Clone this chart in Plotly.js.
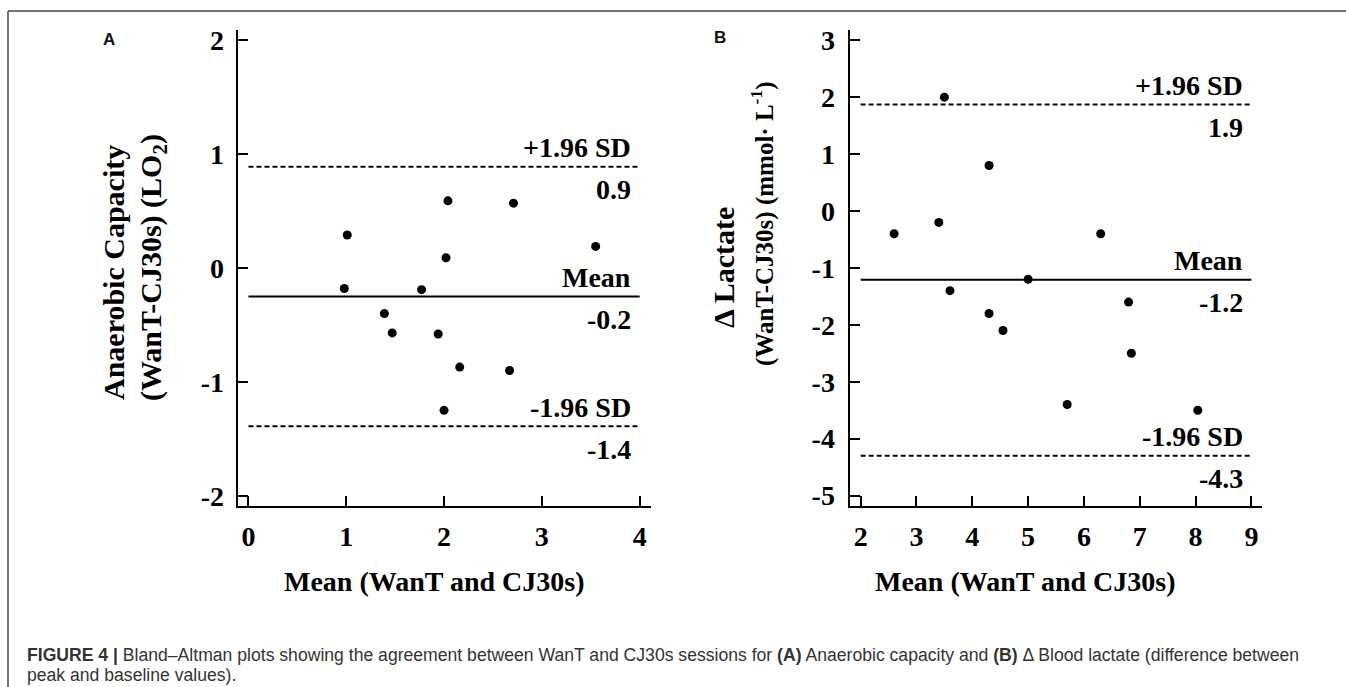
<!DOCTYPE html>
<html>
<head>
<meta charset="utf-8">
<script src="https://cdn.plot.ly/plotly-3.0.1.min.js"></script>
<style>html,body{margin:0;padding:0;background:#fff;}#chart{width:1346px;height:687px;}</style>
</head>
<body>
<div id="chart"></div>
<script>
// ---- Data ----
const aX = [1.01, 0.98, 2.04, 2.71, 3.55, 2.02, 1.77, 1.39, 1.47, 1.94, 2.16, 2.67, 2.00];
const aY = [0.29, -0.18, 0.59, 0.57, 0.19, 0.09, -0.19, -0.40, -0.57, -0.58, -0.87, -0.90, -1.25];
const bX = [2.60, 3.40, 3.50, 3.60, 4.30, 4.30, 4.55, 5.00, 5.70, 6.30, 6.80, 6.85, 8.04];
const bY = [-0.4, -0.2, 2.0, -1.4, 0.8, -1.8, -2.1, -1.2, -3.4, -0.4, -1.6, -2.5, -3.5];

const aLimits = [0.89, -0.25, -1.39];      // +1.96 SD, mean, -1.96 SD
const bLimits = [1.87, -1.21, -4.30];
const limitNames = ["+1.96 SD", "Mean", "-1.96 SD"];
const aLimitText = ["0.9", "-0.2", "-1.4"];
const bLimitText = ["1.9", "-1.2", "-4.3"];
const aLineX = [0, 4];
const bLineX = [2, 9];
const aLabelX = 3.93;
const bLabelX = 8.89;

const aXTicks = [0, 1, 2, 3, 4];
const aYTicks = [-2, -1, 0, 1, 2];
const bXTicks = [2, 3, 4, 5, 6, 7, 8, 9];
const bYTicks = [-5, -4, -3, -2, -1, 0, 1, 2, 3];
const tickText = v => v.map(t => String(t));   // plain hyphen minus as in the figure

const xTitle = "Mean (WanT and CJ30s)";
const aYTitle = ["Anaerobic Capacity", "(WanT-CJ30s) (LO<sub>2</sub>)"];
const bYTitle = ["Δ Lactate", "(WanT-CJ30s) (mmol· L<sup>-1</sup>)"];
const caption1 = "<b>FIGURE 4 |</b> Bland–Altman plots showing the agreement between WanT and CJ30s sessions for <b>(A)</b> Anaerobic capacity and <b>(B)</b> Δ Blood lactate (difference between";
const caption2 = "peak and baseline values).";

// ---- Layout helpers ----
const W = 1346, H = 687;
const px = x => x / W;
const py = y => 1 - y / H;
const serifOf = s => ({family: "Liberation Serif, Times New Roman, serif", size: s, color: "#000", weight: "bold"});
const serif = serifOf(28);

const traces = [];
function addPanel(xs, ys, limits, lineX, xa, ya) {
  traces.push({x: xs, y: ys, xaxis: xa, yaxis: ya, type: "scatter", mode: "markers",
    marker: {color: "#000", size: 9}, hoverinfo: "x+y", showlegend: false});
  limits.forEach((v, i) => {
    traces.push({x: lineX, y: [v, v], xaxis: xa, yaxis: ya, type: "scatter", mode: "lines",
      line: {color: "#000", width: 2, dash: i === 1 ? "solid" : "5px,3px"},
      hoverinfo: "skip", showlegend: false});
  });
}
addPanel(aX, aY, aLimits, aLineX, "x", "y");
addPanel(bX, bY, bLimits, bLineX, "x2", "y2");

function axis(domain, range, ticks, anchor, standoff) {
  return {domain: domain, range: range, anchor: anchor,
    tickmode: "array", tickvals: ticks, ticktext: tickText(ticks),
    ticks: "inside", ticklen: 10, tickwidth: 2, tickcolor: "#000",
    showline: true, linewidth: 2, linecolor: "#000",
    showgrid: false, zeroline: false, tickfont: serif,
    ticklabelstandoff: standoff, fixedrange: true};
}

const yDom = [py(506.4), py(30)];
const layout = {
  width: W, height: H,
  margin: {l: 0, r: 0, t: 0, b: 0},
  paper_bgcolor: "#fff", plot_bgcolor: "rgba(0,0,0,0)",
  showlegend: false,
  xaxis: axis([px(237.6), px(650.5)], [-0.111, 4.111], aXTicks, "y", 4),
  yaxis: axis(yDom, [-2.094, 2.091], aYTicks, "x", 6),
  xaxis2: axis([px(849.5), px(1262)], [1.80, 9.19], bXTicks, "y2", 4),
  yaxis2: axis(yDom, [-5.19, 3.18], bYTicks, "x2", 7),
  annotations: [],
  shapes: [
    {type: "line", xref: "paper", yref: "paper", x0: px(8), x1: px(8), y0: 0, y1: py(11), line: {color: "#444", width: 1.5}},
    {type: "line", xref: "paper", yref: "paper", x0: px(8), x1: 1, y0: py(11), y1: py(11), line: {color: "#444", width: 1.5}}
  ]
};

function limitLabels(limits, texts, lx, xr, yr) {
  limits.forEach((v, i) => {
    layout.annotations.push({x: lx, y: v, xref: xr, yref: yr, text: limitNames[i], showarrow: false,
      xanchor: "right", yanchor: "middle", yshift: 19, font: serif});
    layout.annotations.push({x: lx, y: v, xref: xr, yref: yr, text: texts[i], showarrow: false,
      xanchor: "right", yanchor: "middle", yshift: -23, font: serif});
  });
}
limitLabels(aLimits, aLimitText, aLabelX, "x", "y");
limitLabels(bLimits, bLimitText, bLabelX, "x2", "y2");

// axis titles
function paperText(x, y, text, font, angle) {
  layout.annotations.push({x: px(x), y: py(y), xref: "paper", yref: "paper", text: text, showarrow: false,
    textangle: angle || 0, xanchor: "center", yanchor: "middle", font: font});
}
paperText(434, 581, "<b>" + xTitle + "</b>", serif);
paperText(1025, 581, "<b>" + xTitle + "</b>", serif);
paperText(114, 273, "<b>" + aYTitle[0] + "</b>", serifOf(30), -90);
paperText(153, 268, "<b>" + aYTitle[1] + "</b>", serifOf(30), -90);
paperText(724, 268, "<b>" + bYTitle[0] + "</b>", serifOf(30), -90);
paperText(763, 224, "<b>" + bYTitle[1] + "</b>", serifOf(25), -90);

// panel letters
const sansBold = {family: "Liberation Sans, Arial, sans-serif", size: 17, color: "#111", weight: "bold"};
paperText(109, 39, "A", sansBold);
paperText(720, 38, "B", sansBold);

// caption
const capFont = {family: "Liberation Sans, Arial, sans-serif", size: 17.6, color: "#333"};
layout.annotations.push({x: px(25), y: py(655), xref: "paper", yref: "paper", text: caption1, showarrow: false, xanchor: "left", yanchor: "middle", font: capFont});
layout.annotations.push({x: px(25), y: py(675), xref: "paper", yref: "paper", text: caption2, showarrow: false, xanchor: "left", yanchor: "middle", font: capFont});

Plotly.newPlot("chart", traces, layout, {displayModeBar: false, staticPlot: true});
</script>
</body>
</html>
